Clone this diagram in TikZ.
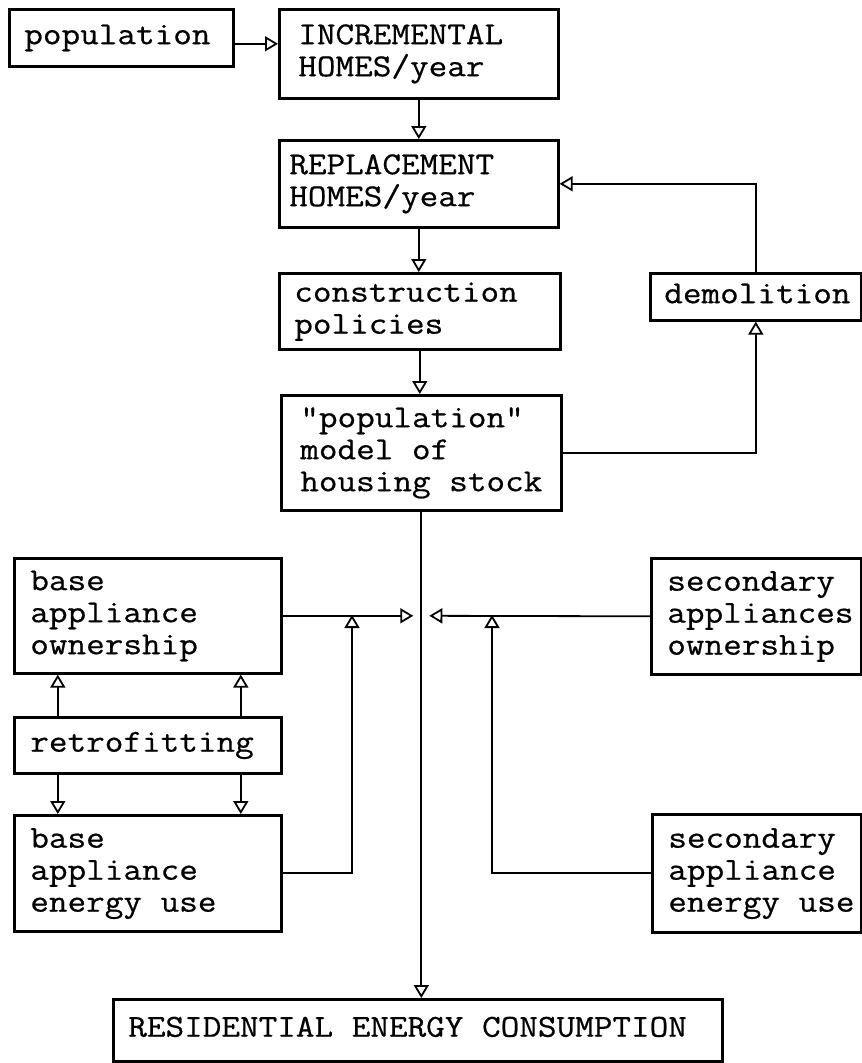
\documentclass[tikz,border=0pt]{standalone}
\usepackage{fontspec}
\usetikzlibrary{arrows.meta}
\newfontfamily\tw[FakeStretch=1.13,FakeBold=0.6]{Latin Modern Mono}
\newcommand\bx[3]{\makebox[#1][l]{\hspace*{#2}\begin{tabular}{@{}l@{}}#3\end{tabular}}}
\begin{document}
\begin{tikzpicture}[x=1pt, y=-1pt,
  box/.style={draw, line width=2.6pt, anchor=north west, inner sep=0pt,
    font=\tw\fontsize{32}{32}\selectfont},
  conn/.style={line width=1.8pt, -{Triangle[open, length=13pt, width=15pt]}}]
\useasboundingbox (0,0) rectangle (862,1063);

\node[box, minimum height=57pt] (pop) at (8,8) {\bx{224pt}{15pt}{population}};
\node[box, minimum height=89pt] (incr) at (278,8) {\bx{279pt}{19pt}{\raisebox{-6pt}{\begin{tabular}{@{}l@{}}INCREMENTAL\\HOMES/year\end{tabular}}}};
\node[box, minimum height=87pt] (repl) at (278,139) {\bx{279pt}{10pt}{\raisebox{-4pt}{\begin{tabular}{@{}l@{}}REPLACEMENT\\HOMES/year\end{tabular}}}};
\node[box, minimum height=76pt] (constr) at (278,272) {\bx{281pt}{15pt}{construction\\policies}};
\node[box, minimum height=115pt] (popm) at (280,394) {\bx{280pt}{19pt}{"population"\\model of\\housing stock}};
\node[box, minimum height=47pt] (demol) at (649,272) {\bx{211pt}{14pt}{demolition}};
\node[box, minimum height=115pt] (baseown) at (13,557) {\bx{267pt}{16pt}{base\\appliance\\ownership}};
\node[box, minimum height=116pt] (secown) at (650,557) {\bx{210pt}{16pt}{secondary\\appliances\\ownership}};
\node[box, minimum height=56pt] (retro) at (13,716) {\bx{267pt}{16pt}{retrofitting}};
\node[box, minimum height=116pt] (baseen) at (13,814) {\bx{267pt}{16pt}{base\\appliance\\energy use}};
\node[box, minimum height=118pt] (secen) at (651,813) {\bx{209pt}{16pt}{secondary\\appliance\\energy use}};
\node[box, minimum height=62pt] (resid) at (112,998) {\bx{609pt}{15pt}{RESIDENTIAL ENERGY CONSUMPTION}};

\coordinate (J) at (popm.south |- baseown.east);
\coordinate (jl) at (352,615);
\coordinate (jr) at (492,615);

\draw[conn] ([yshift=-6pt]pop.east) -- ([yshift=-6pt]pop.east -| incr.west);
\draw[conn] (incr.south) -- (repl.north);
\draw[conn] (repl.south) -- (repl.south |- constr.north);
\draw[conn] (constr.south) -- (constr.south |- popm.north);
\draw[conn] (popm.east) -| (demol.south);
\draw[conn] (demol.north) |- (repl.east);
\draw[conn] (popm.south) -- (popm.south |- resid.north);
\draw[conn] (baseown.east) -- ([xshift=-8pt]J);
\draw[conn] (secown.west) -- ([xshift=8pt]J);
\draw[conn] (baseen.east) -| (jl);
\draw[conn] (secen.west) -| (jr);
\draw[conn] ([xshift=-90pt]retro.north) -- ([xshift=-90pt]retro.north |- baseown.south);
\draw[conn] ([xshift=93pt]retro.north) -- ([xshift=93pt]retro.north |- baseown.south);
\draw[conn] ([xshift=-90pt]retro.south) -- ([xshift=-90pt]retro.south |- baseen.north);
\draw[conn] ([xshift=93pt]retro.south) -- ([xshift=93pt]retro.south |- baseen.north);
\end{tikzpicture}
\end{document}
